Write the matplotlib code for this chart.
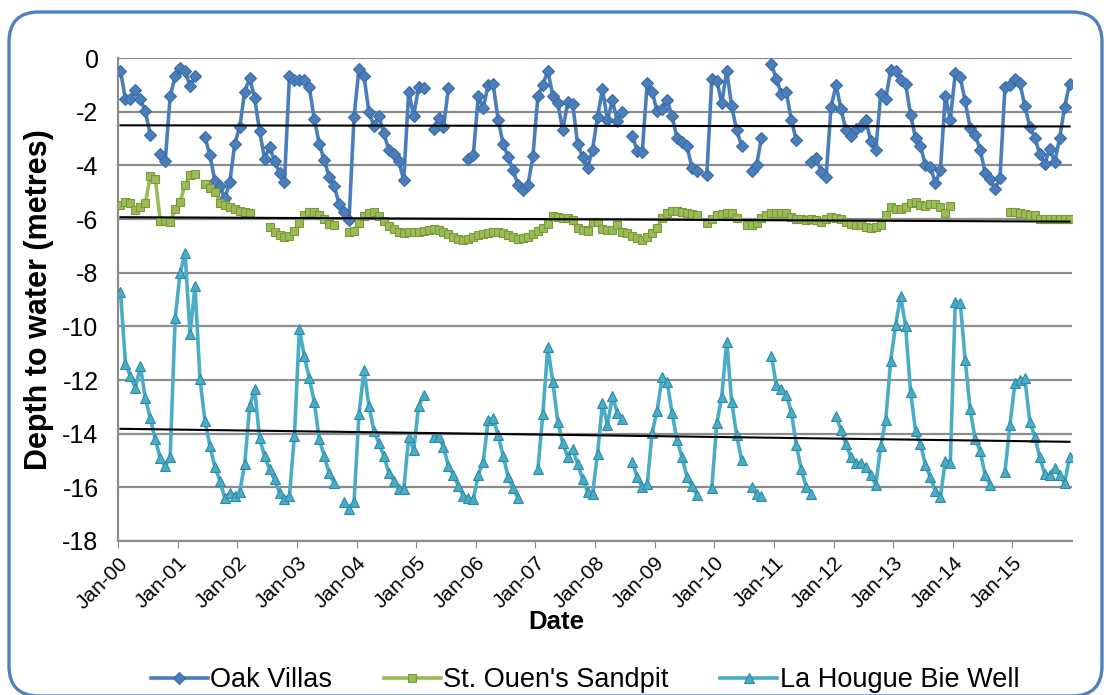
import numpy as np
import matplotlib
matplotlib.use("Agg")
import matplotlib.pyplot as plt
from matplotlib.patches import FancyBboxPatch

plt.rcParams['font.family'] = ['Liberation Sans', 'DejaVu Sans']
plt.rcParams['axes.unicode_minus'] = False

nan = np.nan

# %% data: monthly depth to water (m), Jan-2000 .. Dec-2015
tick_labels = ['Jan-%02d' % y for y in range(16)]

oak_villas = [
    -0.48, -1.53, -1.53, -1.21, -1.53, -1.99, -2.85, nan, -3.56, -3.84, -1.43, -0.67,
    -0.38, -0.47, -1.06, -0.67, nan, -2.94, -3.63, -4.58, -4.77, -5.23, -4.62, -3.19,
    -2.57, -1.25, -0.75, -1.49, -2.73, -3.75, -3.31, -3.84, -4.27, -4.62, -0.67, -0.81,
    -0.81, -0.81, -1.09, -2.27, -3.19, -3.80, -4.42, -4.77, -5.44, -5.75, -6.02, -2.20,
    -0.40, -0.67, -2.02, -2.52, -2.17, -2.81, -3.43, -3.57, -3.84, -4.56, -1.25, -2.15,
    -1.09, -1.12, nan, -2.64, -2.23, -2.57, -1.12, nan, nan, nan, -3.75, -3.63,
    -1.43, -1.86, -1.00, -0.98, -2.30, -3.19, -3.68, -4.17, -4.74, -4.91, -4.74, -3.65,
    -1.43, -1.00, -0.47, -1.41, -1.68, -2.69, -1.65, -1.70, -3.22, -3.68, -4.09, -3.41,
    -2.20, -1.16, -2.32, -1.58, -2.36, -2.02, nan, -2.89, -3.47, -3.51, -0.94, -1.25,
    -1.99, -1.90, -1.56, -2.17, -2.98, -3.14, -3.28, -4.09, -4.21, nan, -4.37, -0.79,
    -0.84, -1.68, -0.47, -1.80, -2.69, -3.26, nan, -4.21, -4.00, -2.98, nan, -0.22,
    -0.79, -1.33, -1.28, -2.30, -3.06, nan, nan, -3.88, -3.72, -4.25, -4.42, -1.83,
    -1.00, -1.90, -2.69, -2.89, -2.64, -2.52, -2.30, -3.10, -3.43, -1.33, -1.53, -0.44,
    -0.47, -0.81, -0.96, -2.11, -2.98, -3.28, -4.00, -4.05, -4.67, -4.17, -1.41, -2.30,
    -0.57, -0.72, -1.62, -2.60, -2.85, -3.41, -4.27, -4.49, -4.89, -4.46, -1.09, -1.00,
    -0.79, -0.94, -1.78, -2.57, -2.98, -3.56, -3.96, -3.38, -3.88, -2.98, -1.83, -0.96,
]

st_ouen = [
    -5.48, -5.35, -5.42, -5.67, -5.57, -5.42, -4.40, -4.49, -6.06, -6.06, -6.10, -5.64,
    -5.35, -4.73, -4.36, -4.32, nan, -4.70, -4.86, -4.98, -5.39, -5.48, -5.54, -5.64,
    -5.69, -5.73, -5.77, nan, nan, nan, -6.29, -6.47, -6.60, -6.68, -6.63, -6.44,
    -6.14, -5.85, -5.75, -5.73, -5.85, -6.01, -6.19, -6.22, nan, nan, -6.48, -6.43,
    -6.15, -5.89, -5.77, -5.73, -5.89, -6.06, -6.26, -6.38, -6.47, -6.51, -6.47, -6.47,
    -6.47, -6.43, -6.42, -6.38, -6.41, -6.47, -6.56, -6.66, -6.76, -6.78, -6.73, -6.68,
    -6.61, -6.56, -6.51, -6.47, -6.47, -6.51, -6.60, -6.68, -6.73, -6.71, -6.66, -6.56,
    -6.43, -6.35, -6.19, -5.89, -5.94, -5.98, -5.98, -6.04, -6.35, -6.41, -6.43, -6.10,
    -6.12, -6.38, -6.41, -6.41, -6.22, -6.47, -6.51, -6.63, -6.72, -6.78, -6.68, -6.53,
    -6.35, -5.98, -5.79, -5.69, -5.69, -5.73, -5.79, -5.82, -5.85, nan, -6.16, -6.01,
    -5.85, -5.82, -5.79, -5.79, -5.98, nan, -6.22, -6.22, -6.16, -5.98, -5.85, -5.79,
    -5.79, -5.77, -5.79, -5.94, -6.01, -6.01, -6.04, -6.01, -6.04, -6.10, -6.01, -5.94,
    -5.98, -6.01, -6.10, -6.19, -6.22, -6.22, -6.29, -6.35, -6.29, -6.22, -5.85, -5.57,
    -5.64, -5.64, -5.57, -5.42, -5.35, -5.48, -5.52, -5.44, -5.44, -5.57, -5.77, -5.52,
    nan, nan, nan, nan, nan, nan, nan, nan, nan, nan, nan, -5.73,
    -5.73, -5.77, -5.82, -5.85, -5.85, -6.01, -6.01, -6.01, -6.01, -6.01, -6.01, -6.01,
]

la_hougue = [
    -8.71, -11.40, -11.85, -12.31, -11.48, -12.68, -13.43, -14.21, -14.92, -15.21, -14.86, -9.70,
    -8.00, -7.28, -10.29, -8.50, -11.98, -13.52, -14.46, -15.23, -15.75, -16.41, -16.22, -16.32,
    -16.16, -15.13, -12.97, -12.35, -14.18, -14.83, -15.33, -15.70, -16.20, -16.45, -16.32, -14.09,
    -10.11, -11.11, -11.94, -12.81, -14.21, -14.83, -15.48, -15.83, nan, -16.54, -16.82, -16.54,
    -13.27, -11.63, -12.97, -13.89, -14.36, -14.83, -15.46, -15.75, -16.08, -16.08, -14.14, -14.61,
    -12.97, -12.56, nan, -14.11, -14.11, -14.49, -15.21, -15.54, -15.95, -16.32, -16.41, -16.45,
    -15.54, -15.05, -13.49, -13.43, -14.05, -14.83, -15.60, -16.04, -16.41, nan, nan, nan,
    -15.33, -13.27, -10.78, -12.06, -13.55, -14.36, -14.86, -14.58, -15.13, -15.70, -16.16, -16.25,
    -14.76, -12.85, -13.68, -12.60, -13.22, -13.47, nan, -15.05, -15.63, -16.00, -15.88, -13.96,
    -13.14, -11.90, -12.06, -13.22, -14.24, -14.88, -15.60, -15.95, -16.29, nan, nan, -16.04,
    -13.62, -12.62, -10.57, -12.81, -14.05, -14.98, nan, -15.98, -16.25, -16.32, nan, -11.11,
    -12.19, -12.35, -12.56, -13.18, -14.42, -15.33, -15.98, -16.25, nan, nan, nan, nan,
    -13.34, -13.87, -14.39, -14.88, -15.08, -15.08, -15.26, -15.54, -15.91, -14.46, -13.49, -11.28,
    -9.95, -8.87, -9.99, -12.44, -13.89, -14.39, -15.17, -15.63, -16.13, -16.37, -15.01, -15.08,
    -9.08, -9.12, -11.26, -13.09, -14.21, -14.63, -15.54, -15.91, nan, nan, -15.42, -13.68,
    -12.10, -12.00, -11.94, -13.55, -14.11, -14.88, -15.50, -15.54, -15.29, -15.54, -15.85, -14.88,
]

series = [
    ("Oak Villas", oak_villas, '#4A7EBB', '#3A6BA5', 'D', 6.5),
    ("St. Ouen's Sandpit", st_ouen, '#9BBB59', '#7A9A3A', 's', 5.5),
    ("La Hougue Bie Well", la_hougue, '#4BACC6', '#2E8CA6', '^', 7),
]

# months since Jan-00, plotted mid-month
months = np.arange(len(oak_villas)) + 0.5

# %%
fig = plt.figure(figsize=(11.06, 6.95), dpi=100)
ax = fig.add_axes([0.1067, 0.2216, 0.8626, 0.6949])

for name, vals, col, edge, mk, ms in series:
    y = np.array(vals, dtype=float)
    ax.plot(months, y, color=col, lw=2.6, marker=mk, ms=ms, mfc=col, mec=edge,
            mew=0.8, label=name, zorder=3)
    ok = ~np.isnan(y)
    k, b = np.polyfit(months[ok], y[ok], 1)
    xt = np.array([months[ok][0], months[ok][-1]])
    ax.plot(xt, k * xt + b, color='black', lw=1.5, zorder=4)

ax.set_xlim(0, 192)
ax.set_ylim(-18, 0)
ax.set_yticks(np.arange(-18, 1, 2))
ax.set_xticks(np.arange(0, 192, 12))
ax.set_xticklabels(tick_labels, rotation=45, ha='right', rotation_mode='anchor')
ax.yaxis.grid(True, color='#8C8C8C', lw=1.6)
ax.set_axisbelow(True)
for s in ['top', 'right']:
    ax.spines[s].set_visible(False)
for s in ['left', 'bottom']:
    ax.spines[s].set_color('#8C8C8C')
    ax.spines[s].set_linewidth(1.6)
ax.tick_params(axis='y', length=0, labelsize=18, pad=14)
ax.tick_params(axis='x', length=5, color='#8C8C8C', labelsize=15, pad=4)

ax.set_xlabel('Date', fontsize=18.5, fontweight='bold')
ax.xaxis.set_label_coords(0.459, -0.143)
ax.set_ylabel('Depth to water (metres)', fontsize=22, fontweight='bold', labelpad=6)

fig.legend(loc='center', bbox_to_anchor=(0.529, 0.0216), ncol=3, frameon=False,
           fontsize=19.5, handlelength=2.1, numpoints=1, columnspacing=1.9,
           handletextpad=0.1)

border = FancyBboxPatch((0.09, -0.01), 10.93, 6.84, boxstyle='round,pad=0,rounding_size=0.3',
                        transform=fig.dpi_scale_trans, fill=False, ec='#4F81BD', lw=2.4)
fig.patches.append(border)

fig.savefig('out.png', dpi=100)
